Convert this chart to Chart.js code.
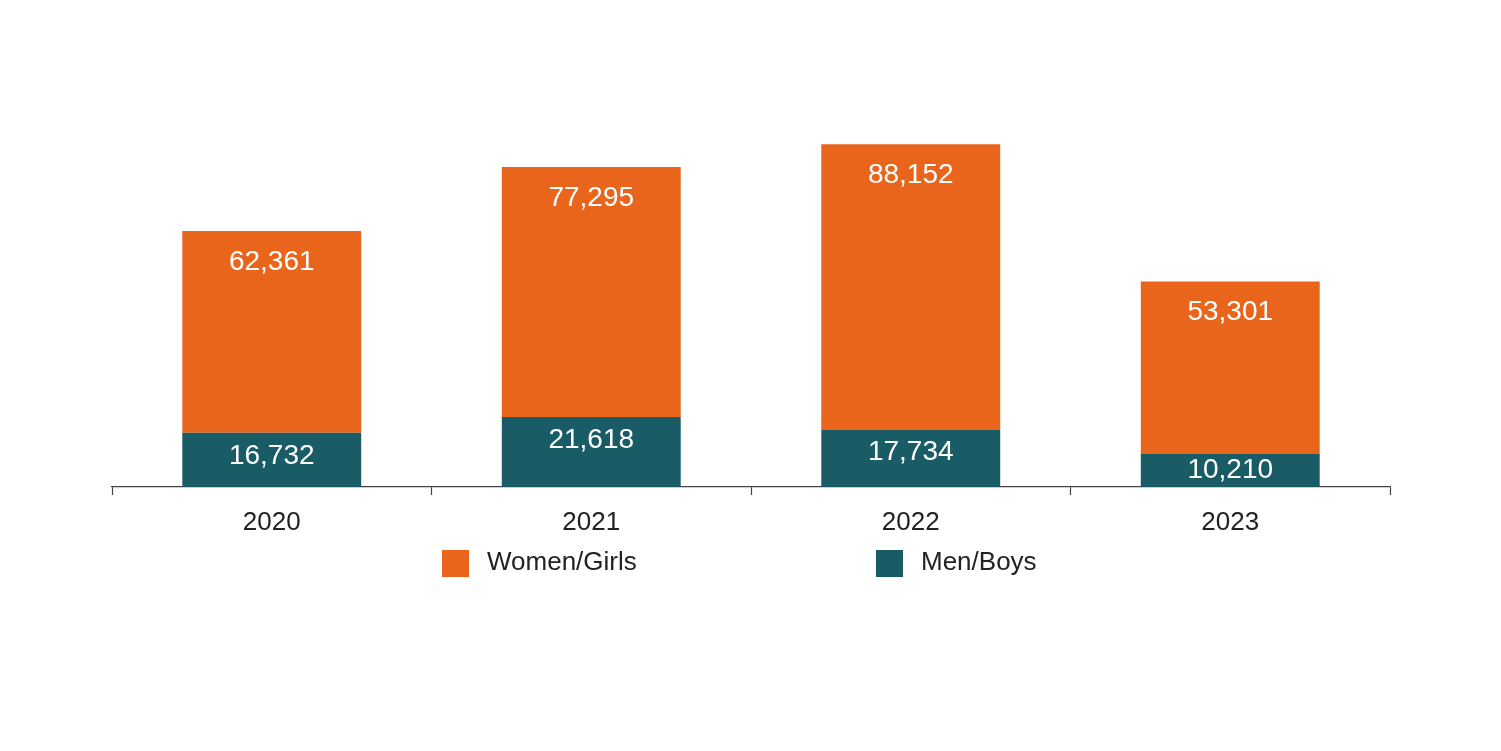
<!DOCTYPE html>
<html>
<head>
<meta charset="utf-8">
<script src="https://cdn.jsdelivr.net/npm/chart.js@4/dist/chart.umd.min.js"></script>
<style>
  html, body { margin: 0; padding: 0; background: #fff; }
  #wrap { width: 1501px; height: 751px; }
</style>
</head>
<body>
<div id="wrap"><canvas id="chart"></canvas></div>
<script>
const years = ["2020", "2021", "2022", "2023"];
const menBoys = [16732, 21618, 17734, 10210];
const womenGirls = [62361, 77295, 88152, 53301];

const ORANGE = "#e8651b";
const TEAL = "#1a5c66";
const FONT = "'Liberation Sans', Arial, sans-serif";

/* value labels inside the bar segments */
const valueLabels = {
    id: "valueLabels",
    afterDatasetsDraw(chart) {
        const c = chart.ctx;
        c.save();
        c.fillStyle = "#fff";
        c.font = "28px " + FONT;
        c.textAlign = "center";
        c.textBaseline = "middle";
        chart.data.datasets.forEach((ds, i) => {
            chart.getDatasetMeta(i).data.forEach((bar, j) => {
                const top = Math.min(bar.y, bar.base);
                const bottom = Math.max(bar.y, bar.base);
                let y = top + (i === 0 ? 23 : 31);
                y = Math.min(y, (top + bottom) / 2);
                c.fillText(ds.data[j].toLocaleString("en-US"), bar.x, y);
            });
        });
        c.restore();
    }
};

/* legend drawn by hand to match spacing */
const customLegend = {
    id: "customLegend",
    afterDraw(chart) {
        const c = chart.ctx;
        const items = [chart.data.datasets[1], chart.data.datasets[0]];
        const xs = [442, 876];
        c.save();
        c.font = "26px " + FONT;
        c.textBaseline = "middle";
        c.textAlign = "left";
        items.forEach((ds, k) => {
            c.fillStyle = ds.backgroundColor;
            c.fillRect(xs[k], 550, 27, 27);
            c.fillStyle = "#222";
            c.fillText(ds.label, xs[k] + 45, 563);
        });
        c.restore();
    }
};

new Chart(document.getElementById("chart"), {
    type: "bar",
    data: {
        labels: years,
        datasets: [
            { label: "Men/Boys", data: menBoys, backgroundColor: TEAL },
            { label: "Women/Girls", data: womenGirls, backgroundColor: ORANGE }
        ]
    },
    options: {
        responsive: true,
        maintainAspectRatio: false,
        animation: false,
        layout: { padding: { top: 131, left: 112, right: 111, bottom: 0 } },
        plugins: { legend: { display: false }, tooltip: { enabled: false } },
        datasets: { bar: { categoryPercentage: 1, barPercentage: 0.56 } },
        scales: {
            x: {
                stacked: true,
                afterFit(scale) { scale.height = 264; },
                grid: {
                    offset: true,
                    drawOnChartArea: false,
                    tickLength: 8,
                    color: "#444",
                    tickWidth: 1.2
                },
                border: { color: "#444", width: 1.2 },
                ticks: { color: "#222", font: { size: 26, family: FONT }, padding: 12 }
            },
            y: { stacked: true, display: false, min: 0, max: 110000 }
        }
    },
    plugins: [valueLabels, customLegend]
});
</script>
</body>
</html>
